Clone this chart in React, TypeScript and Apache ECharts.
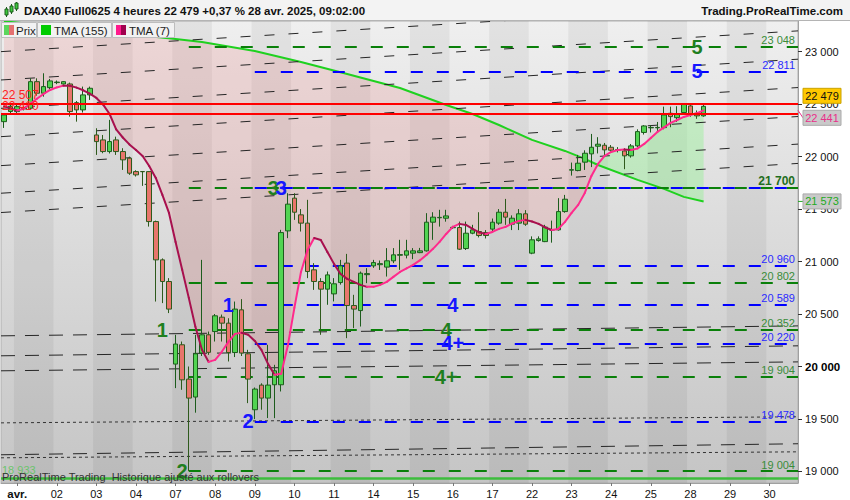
import { useEffect, useRef } from "react";
import * as echarts from "echarts";

const FONT = '"Liberation Sans", Arial, sans-serif';

const headerText = "DAX40 Full0625 4 heures 22 479 +0,37 % 28 avr. 2025, 09:02:00";
const siteText = "Trading.ProRealTime.com";
const footerText = "ProRealTime Trading  Historique ajusté aux rollovers";

// x axis: one slot per 4h bar, six bars a day, slot 0 = 31 mars 16:00
const dayLabels = ["avr.", "02", "03", "04", "07", "08", "09", "10", "11", "14", "15", "16", "17", "22", "23", "24", "25", "28", "29", "30"];
const firstDaySlot = 2;
const barsPerDay = 6;
const slotRange = [-0.45, 120.3];
const priceRange = [18890, 23292];
const priceTicks = [19000, 19500, 20000, 20500, 21000, 21500, 22000, 22500, 23000];

// [open, close, low, high]
const candles = [
  [22333, 22397, 22273, 22410], [22430, 22480, 22410, 22500], [22429, 22476, 22413, 22492], [22455, 22462, 22440, 22480],
  [22461, 22714, 22455, 22746], [22714, 22604, 22580, 22746], [22604, 22667, 22571, 22794], [22657, 22721, 22640, 22740],
  [22705, 22710, 22690, 22725], [22692, 22714, 22685, 22720], [22692, 22429, 22381, 22705], [22514, 22445, 22333, 22530],
  [22445, 22588, 22420, 22667], [22588, 22651, 22540, 22667], [22206, 22143, 22016, 22270], [22159, 22048, 22032, 22206],
  [22048, 22143, 22030, 22350], [22159, 22048, 22016, 22190], [22048, 21969, 21873, 22080], [21985, 21842, 21826, 22000],
  [21857, 21826, 21810, 21870], [21858, 21856, 21721, 21860], [21857, 21381, 21333, 21860], [21381, 21016, 20619, 21390],
  [21016, 20810, 20604, 21030], [20810, 20547, 20509, 20842], [20023, 20214, 19794, 20302], [20207, 19873, 19778, 20238],
  [19880, 19699, 19004, 20000], [19709, 20121, 19560, 20302], [20128, 20302, 20100, 21016], [20302, 20135, 20111, 20333],
  [20333, 20483, 20238, 20500], [20470, 20413, 20238, 20495], [20413, 20133, 20048, 20460], [20133, 20547, 20090, 20619],
  [20540, 20128, 20100, 20642], [20121, 19880, 19651, 20159], [19588, 19785, 19499, 19800], [19823, 19699, 19588, 19840],
  [19699, 19823, 19509, 20207], [19826, 19959, 19508, 20016], [19826, 21276, 19762, 21302], [21292, 21547, 21223, 21651],
  [21604, 21470, 21397, 21651], [21445, 21366, 21286, 21500], [21366, 20905, 20842, 21588], [20921, 20810, 20730, 20985],
  [20810, 20737, 20302, 20842], [20737, 20873, 20588, 20905], [20692, 20788, 20620, 20842], [20800, 20959, 20780, 21016],
  [20985, 20581, 20270, 21073], [20581, 20547, 20366, 20683], [20533, 20889, 20381, 20905], [20875, 20885, 20794, 20937],
  [20959, 20990, 20940, 21016], [20970, 20980, 20920, 21010], [20947, 21007, 20857, 21128], [21007, 21064, 20985, 21128],
  [21060, 21066, 20921, 21207], [21061, 21102, 21030, 21207], [21080, 21102, 21023, 21128], [21085, 21102, 21080, 21130],
  [21102, 21375, 21095, 21461], [21375, 21423, 21207, 21470], [21417, 21421, 21333, 21493], [21413, 21435, 21380, 21493],
  [21322, 21326, 21310, 21340], [21324, 21118, 21110, 21381], [21124, 21270, 21110, 21381], [21270, 21302, 21260, 21350],
  [21286, 21248, 21230, 21470], [21276, 21248, 21220, 21300], [21309, 21375, 21280, 21410], [21366, 21470, 21350, 21500],
  [21470, 21423, 21350, 21597], [21356, 21413, 21300, 21440], [21366, 21455, 21300, 21500], [21455, 21356, 21340, 21490],
  [21080, 21207, 21070, 21240], [21200, 21216, 21190, 21240], [21190, 21328, 21185, 21350], [21300, 21304, 21180, 21390],
  [21302, 21476, 21295, 21604], [21476, 21594, 21465, 21635], [21871, 21875, 21819, 21943], [21867, 21937, 21860, 22016],
  [21947, 22032, 21873, 22060], [22026, 22089, 21900, 22216], [22099, 22118, 22030, 22185], [22108, 22064, 22000, 22130],
  [22089, 22061, 22040, 22110], [22062, 22066, 22040, 22090], [22054, 22007, 21880, 22080], [22007, 22102, 21990, 22120],
  [22102, 22238, 22090, 22260], [22230, 22292, 22210, 22300], [22274, 22278, 22230, 22300], [22274, 22278, 22230, 22330],
  [22276, 22397, 22260, 22476], [22413, 22381, 22280, 22476], [22371, 22403, 22330, 22480], [22420, 22498, 22410, 22508],
  [22483, 22407, 22380, 22492], [22413, 22388, 22360, 22440], [22388, 22479, 22380, 22500],
];

// TMA (7), one value per bar
const tma7 = [
  22480, 22459, 22440, 22456, 22506, 22551, 22597, 22635, 22659, 22676,
  22675, 22657, 22632, 22600, 22559, 22497, 22406, 22259, 22182, 22116,
  22063, 22006, 21911, 21797, 21635, 21463, 21187, 20921, 20654, 20378,
  20159, 20044, 20063, 20140, 20235, 20311, 20321, 20302, 20244, 20159,
  20025, 19921, 19930, 20197, 20559, 20901, 21111, 21225, 21206, 21092,
  20978, 20882, 20835, 20806, 20778, 20759, 20759, 20778, 20806, 20854,
  20901, 20935, 20968, 21011, 21063, 21121, 21187, 21263, 21330, 21359,
  21349, 21311, 21278, 21263, 21282, 21311, 21330, 21363, 21387, 21397,
  21382, 21359, 21325, 21301, 21311, 21378, 21463, 21540, 21654, 21816,
  21930, 22006, 22044, 22063, 22068, 22063, 22078, 22121, 22178, 22235,
  22278, 22321, 22349, 22378, 22397, 22413, 22441,
];

// TMA (155), [slot, value]
const tma155 = [
  [0, 23290], [13, 23206], [26, 23121], [30, 23092], [38, 23006], [45, 22902], [52, 22787],
  [60, 22654], [67, 22492], [71, 22406], [75, 22301], [80, 22159], [85, 22054], [88, 21978],
  [90, 21920], [96, 21778], [100, 21692], [103, 21616], [106, 21573],
];
const crossSlot = 90;

const lastPrice = 22479;
const redLevels = [22507, 22410];
const baseLevel = 18933;
const greenLevels = [23048, 21700, 20802, 20352, 19904, 19004];
const greenFrom = 28;
const blueLevels = [22811, 21700, 20960, 20589, 20220, 19478];
const blueFrom = 38;

// trend lines: value at left edge, value at right edge
const trendSteep = [[23000, 23468], [22730, 23198], [22460, 22928], [22190, 22658], [21914, 22382], [21651, 22119], [21467, 21935]];
const trendFlat = [[20292, 20387], [20102, 20197], [19959, 20044], [19159, 19264]];
const trendDotted = [[19463, 19521], [19130, 19187]];

// [text, slot, level, colour group]
const waveMarks: [string, number, number, string][] = [
  ["1", 24, 20352, "g"], ["1", 34, 20589, "b"], ["2", 27, 19004, "g"], ["2", 37, 19478, "b"],
  ["3", 40.8, 21700, "g"], ["3", 42, 21700, "b"], ["4", 68, 20589, "b"], ["4", 67, 20352, "g"],
  ["4+", 68, 20220, "b"], ["4+", 67, 19904, "g"], ["5", 105, 23048, "g"], ["5", 105, 22811, "b"],
];

const fmt = (v: number) => String(Math.round(v)).replace(/\B(?=(\d{3})+(?!\d))/g, " ");

const txt = (x: number, y: number, text: string, o: any = {}) => ({
  type: "text",
  x,
  y,
  z: 100,
  silent: true,
  style: {
    text,
    fill: o.fill || "#111",
    fontSize: o.size || 11,
    fontWeight: o.bold ? "bold" : "normal",
    fontFamily: FONT,
    textAlign: o.align || "left",
    textVerticalAlign: "middle",
  },
});

const box = (x: number, y: number, w: number, h: number, fill: string, stroke?: string) => ({
  type: "rect",
  z: 100,
  silent: true,
  shape: { x, y, width: w, height: h },
  style: { fill, stroke: stroke || null, lineWidth: 1 },
});

export default function App() {
  const chartRef = useRef<HTMLDivElement>(null);

  useEffect(() => {
    document.body.style.margin = "0";
    if (!chartRef.current) return;
    const chart = echarts.init(chartRef.current, null, { renderer: "svg" });

    const daySlots = dayLabels.map((_, k) => firstDaySlot + k * barsPerDay);
    const darkDays = daySlots.filter((_, k) => k % 2 === 0);

    const levelLine = (v: number, from: number, color: string, labelColor: string, showLabel: boolean, bold: boolean) => [
      {
        coord: [from, v],
        lineStyle: { color, width: 2, type: [12, 14] },
        label: {
          show: showLabel,
          position: "insideEndTop",
          formatter: fmt(v),
          color: labelColor,
          fontSize: bold ? 12 : 11,
          fontWeight: bold ? "bold" : "normal",
          fontFamily: FONT,
          distance: [3, 1],
        },
      },
      { coord: [slotRange[1], v] },
    ];

    const trendSeries = (rows: number[][], dash: number[], color: string) =>
      rows.map((r) => ({
        type: "line",
        silent: true,
        symbol: "none",
        z: 2,
        data: [[slotRange[0], r[0]], [slotRange[1], r[1]]],
        lineStyle: { color, width: 1, type: dash },
      }));

    const option: any = {
      animation: false,
      grid: {
        left: 1,
        right: 52,
        top: 21,
        bottom: 17,
        show: true,
        borderWidth: 1,
        borderColor: "#b0b0b0",
        backgroundColor: new echarts.graphic.LinearGradient(0, 0, 0, 1, [
          { offset: 0, color: "#efefef" },
          { offset: 1, color: "#c5c5c5" },
        ]),
      },
      xAxis: {
        type: "value",
        min: slotRange[0],
        max: slotRange[1],
        axisLine: { show: true, onZero: false, lineStyle: { color: "#a0a0a0" } },
        axisTick: { show: true, length: 3, customValues: daySlots, lineStyle: { color: "#777" } },
        axisLabel: {
          customValues: daySlots,
          margin: 5,
          color: "#111",
          fontSize: 11,
          fontFamily: FONT,
          formatter: (v: number) => {
            const k = Math.round((v - firstDaySlot) / barsPerDay);
            const t = dayLabels[k] || "";
            return k === 0 ? `{b|${t}}` : t;
          },
          rich: { b: { fontWeight: "bold", fontSize: 11.5, fontFamily: FONT, color: "#111" } },
        },
        splitLine: { show: false },
      },
      yAxis: {
        type: "value",
        position: "right",
        min: priceRange[0],
        max: priceRange[1],
        axisLine: { show: true, onZero: false, lineStyle: { color: "#a0a0a0" } },
        axisTick: { show: true, length: 4, customValues: priceTicks, lineStyle: { color: "#333" } },
        axisLabel: {
          customValues: priceTicks,
          margin: 7,
          color: "#111",
          fontSize: 11,
          fontFamily: FONT,
          formatter: (v: number) => (v === 20000 ? `{b|${fmt(v)}}` : fmt(v)),
          rich: { b: { fontWeight: "bold", fontSize: 11.5, fontFamily: FONT, color: "#000" } },
        },
        splitLine: { show: false },
      },
      series: [
        {
          type: "custom",
          silent: true,
          z: 1,
          data: darkDays.map((s) => [s, priceRange[0]]),
          encode: { x: 0, y: 1 },
          renderItem: (_: any, api: any) => {
            const s = api.value(0);
            const a = api.coord([Math.max(s - 0.5, slotRange[0]), priceRange[1]]);
            const b = api.coord([Math.min(s + barsPerDay - 0.5, slotRange[1]), priceRange[0]]);
            return {
              type: "rect",
              shape: { x: a[0], y: a[1], width: b[0] - a[0], height: b[1] - a[1] },
              style: { fill: "rgba(0,0,0,0.05)" },
            };
          },
        },
        {
          type: "custom",
          silent: true,
          z: 1,
          data: [[0, priceRange[0]]],
          encode: { x: 0, y: 1 },
          renderItem: (_: any, api: any) => {
            const pink = [
              ...tma7.slice(0, crossSlot + 1).map((v, i) => api.coord([i, v])),
              ...tma155.filter((p) => p[0] <= crossSlot).reverse().map((p) => api.coord(p)),
            ];
            const green = [
              ...tma7.slice(crossSlot).map((v, i) => api.coord([i + crossSlot, v])),
              ...tma155.filter((p) => p[0] >= crossSlot).reverse().map((p) => api.coord(p)),
            ];
            return {
              type: "group",
              children: [
                { type: "polygon", shape: { points: pink }, style: { fill: "rgba(235,105,105,0.18)" } },
                { type: "polygon", shape: { points: green }, style: { fill: "rgba(150,240,150,0.45)" } },
              ],
            };
          },
        },
        {
          type: "line",
          silent: true,
          symbol: "none",
          z: 2,
          data: tma155,
          lineStyle: { color: "#1fd11f", width: 2 },
        },
        ...trendSeries(trendSteep, [10, 14], "#262626"),
        ...trendSeries(trendFlat, [14, 10], "#262626"),
        ...trendSeries(trendDotted, [3, 3], "#333"),
        {
          type: "line",
          silent: true,
          symbol: "none",
          data: [[slotRange[0], baseLevel]],
          markLine: {
            silent: true,
            symbol: ["none", "none"],
            z: 3,
            data: [
              ...greenLevels.map((v) =>
                levelLine(v, greenFrom, "#0a800a", blueLevels.includes(v) ? "#1e6e1e" : "#3a8c3a", true, blueLevels.includes(v))
              ),
              ...blueLevels.map((v) => levelLine(v, blueFrom, "#0000ff", "#2a2aff", !greenLevels.includes(v), false)),
              [
                {
                  coord: [slotRange[0], baseLevel],
                  lineStyle: { color: "#3cbd3c", width: 2.5, type: "solid" },
                  label: {
                    show: true,
                    position: "insideStartTop",
                    formatter: fmt(baseLevel),
                    color: "#6cc46c",
                    fontSize: 11,
                    fontFamily: FONT,
                    distance: [1, 3],
                  },
                },
                { coord: [slotRange[1], baseLevel] },
              ],
            ],
          },
        },
        {
          type: "candlestick",
          silent: true,
          z: 4,
          barWidth: 5,
          data: candles.map((c, i) => [i, ...c]),
          encode: { x: 0, y: [1, 2, 3, 4] },
          itemStyle: {
            color: "#52d452",
            color0: "#e8766c",
            borderColor: "#1d5c1d",
            borderColor0: "#2e5a1c",
            borderWidth: 1,
          },
        },
        {
          type: "custom",
          silent: true,
          z: 5,
          data: tma7.map((v, i) => [i, v]),
          encode: { x: 0, y: 1 },
          renderItem: (params: any, api: any) => {
            const i = params.dataIndex;
            if (i >= tma7.length - 1) return { type: "group", children: [] };
            const p = api.coord([i, tma7[i]]);
            const q = api.coord([i + 1, tma7[i + 1]]);
            return {
              type: "line",
              shape: { x1: p[0], y1: p[1], x2: q[0], y2: q[1] },
              style: { stroke: tma7[i + 1] >= tma7[i] ? "#ff2a8c" : "#a8104e", lineWidth: 2, lineCap: "round" },
            };
          },
        },
        {
          type: "line",
          silent: true,
          symbol: "none",
          data: [[slotRange[0], redLevels[0]]],
          markLine: {
            silent: true,
            symbol: ["none", "none"],
            z: 6,
            data: redLevels.map((v) => [
              {
                coord: [slotRange[0], v],
                lineStyle: { color: "#ff0000", width: 2, type: "solid" },
                label: {
                  show: true,
                  position: "insideStartTop",
                  formatter: fmt(v),
                  color: "#ff2020",
                  fontSize: 12,
                  fontFamily: FONT,
                  distance: [1, 2],
                },
              },
              { coord: [slotRange[1], v] },
            ]),
          },
        },
        {
          type: "custom",
          silent: true,
          z: 7,
          data: waveMarks.map(([, s, v]) => [s, v]),
          encode: { x: 0, y: 1 },
          renderItem: (params: any, api: any) => {
            const [t, s, v, g] = waveMarks[params.dataIndex];
            const p = api.coord([s, v]);
            return {
              type: "text",
              x: p[0],
              y: p[1],
              style: {
                text: t,
                fill: g === "g" ? "#1f7f1f" : "#1616ff",
                fontSize: 20,
                fontWeight: "bold",
                fontFamily: FONT,
                textAlign: "center",
                textVerticalAlign: "middle",
              },
            };
          },
        },
      ],
    };

    chart.setOption(option);

    const yOf = (v: number) => chart.convertToPixel({ yAxisIndex: 0 }, v) as number;
    const yLast = yOf(lastPrice) - 10.5;
    const yTma7 = yOf(tma7[tma7.length - 1]) + 7.5;
    const yTma155 = yOf(tma155[tma155.length - 1][1]);
    const tagX = 803;
    const tagW = 38;

    const graphic: any[] = [
      box(0, 0, 850, 20, "#f3f3f3"),
      { type: "line", z: 100, silent: true, shape: { x1: 0, y1: 20.5, x2: 850, y2: 20.5 }, style: { stroke: "#b4b4b4", lineWidth: 1 } },
      { type: "line", z: 100, silent: true, shape: { x1: 6.5, y1: 7, x2: 6.5, y2: 17 }, style: { stroke: "#1d5c1d", lineWidth: 1 } },
      box(5, 9, 3, 6, "#3cc83c", "#1d5c1d"),
      { type: "line", z: 100, silent: true, shape: { x1: 11.5, y1: 4, x2: 11.5, y2: 14 }, style: { stroke: "#1d5c1d", lineWidth: 1 } },
      box(10, 6, 3, 6, "#3cc83c", "#1d5c1d"),
      { type: "line", z: 100, silent: true, shape: { x1: 16.5, y1: 2, x2: 16.5, y2: 11 }, style: { stroke: "#1d5c1d", lineWidth: 1 } },
      box(15, 3, 3, 6, "#3cc83c", "#1d5c1d"),
      txt(24, 10.5, headerText, { bold: true, size: 11.5 }),
      txt(843, 10.5, siteText, { bold: true, size: 11.5, align: "right" }),

      box(1.5, 22.5, 35, 15, "#f2f2f2", "#bdbdbd"),
      box(4, 25, 5, 10, "#5cd65c"),
      box(9, 25, 5, 10, "#e47070"),
      txt(16, 30.5, "Prix", { size: 11.5, fill: "#222" }),
      box(37.5, 22.5, 74, 15, "#f2f2f2", "#bdbdbd"),
      box(41, 25, 10, 10, "#00cc00"),
      txt(54, 30.5, "TMA (155)", { size: 11.5, fill: "#222" }),
      box(112.5, 22.5, 62, 15, "#f2f2f2", "#bdbdbd"),
      box(116, 25, 5, 10, "#ff1a8c"),
      box(121, 25, 5, 10, "#a0004e"),
      txt(129, 30.5, "TMA (7)", { size: 11.5, fill: "#222" }),

      txt(2, 477, footerText, { size: 11, fill: "#333" }),

      { type: "line", z: 100, silent: true, shape: { x1: 798, y1: yOf(tma7[tma7.length - 1]), x2: tagX, y2: yTma7 }, style: { stroke: "#e8308a", lineWidth: 1 } },
      { type: "line", z: 100, silent: true, shape: { x1: 798, y1: yTma155, x2: tagX, y2: yTma155 }, style: { stroke: "#22aa22", lineWidth: 1 } },
      box(tagX, yLast - 7.5, tagW, 15, "#ffc800", "#c9a200"),
      txt(tagX + tagW / 2, yLast, fmt(lastPrice), { size: 11, align: "center", fill: "#111" }),
      box(tagX, yTma7 - 7.5, tagW, 15, "#c9c9c9", "#aaaaaa"),
      txt(tagX + tagW / 2, yTma7, fmt(tma7[tma7.length - 1]), { size: 11, align: "center", fill: "#e8308a" }),
      box(tagX, yTma155 - 7.5, tagW, 15, "#c9c9c9", "#aaaaaa"),
      txt(tagX + tagW / 2, yTma155, fmt(tma155[tma155.length - 1][1]), { size: 11, align: "center", fill: "#22aa22" }),
    ];

    chart.setOption({ graphic });

    return () => {
      chart.dispose();
    };
  }, []);

  return <div ref={chartRef} style={{ width: 850, height: 500 }} />;
}
